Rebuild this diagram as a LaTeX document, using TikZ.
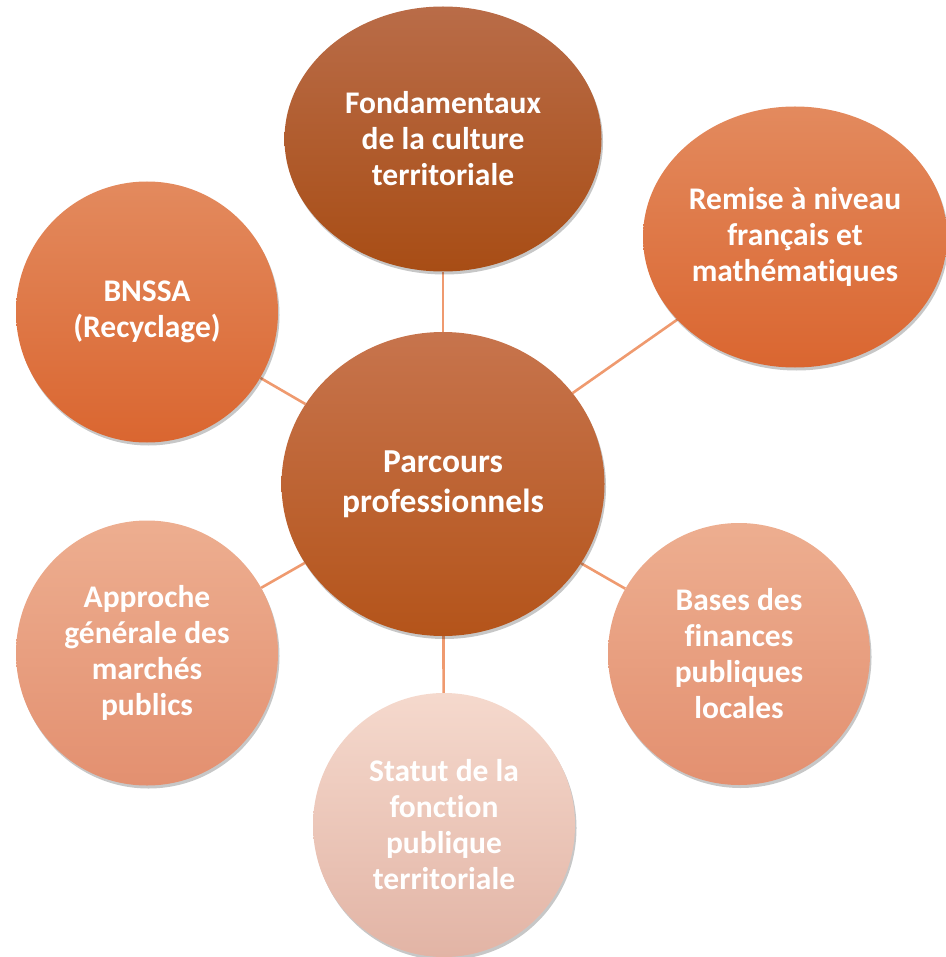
\documentclass[tikz,border=0pt]{standalone}
\usepackage{fontspec}
\setmainfont[Ligatures={NoCommon,NoRare,NoDiscretionary}]{Carlito}
\usetikzlibrary{shapes.geometric,shadows,backgrounds}
\definecolor{linkc}{HTML}{EF9A6F}
\definecolor{darkT}{HTML}{B96C48}\definecolor{darkB}{HTML}{A84D15}
\definecolor{cenT}{HTML}{C7744D}\definecolor{cenB}{HTML}{B4541A}
\definecolor{midT}{HTML}{E38A5E}\definecolor{midB}{HTML}{DA6630}
\definecolor{liteT}{HTML}{EDAE90}\definecolor{liteB}{HTML}{E39070}
\definecolor{paleT}{HTML}{F5D9CD}\definecolor{paleM}{HTML}{F7CCBE}\definecolor{paleB}{HTML}{E2B4A5}
\begin{document}
\begin{tikzpicture}[x=1pt,y=-1pt,
  bubble/.style={ellipse, inner sep=0pt, text=white, align=center,
    font=\fontsize{31.5}{36}\selectfont\bfseries,
    drop shadow={shadow xshift=1.5pt, shadow yshift=-3pt, opacity=0.22, fill=black}},
  link/.style={draw=linkc, line width=2.6pt}]
\useasboundingbox (0,0) rectangle (945,957);
\node[bubble, minimum width=317pt, minimum height=265pt, top color=darkT, bottom color=darkB] (t) at (443,139) {Fondamentaux\\de la culture\\territoriale};
\node[bubble, minimum width=304pt, minimum height=261pt, top color=midT, bottom color=midB] (r) at (795,237) {Remise à niveau\\français et\\mathématiques};
\node[bubble, minimum width=262pt, minimum height=261pt, top color=midT, bottom color=midB] (l) at (147,312) {BNSSA\\(Recyclage)};
\node[bubble, minimum width=323pt, minimum height=304pt, top color=cenT, bottom color=cenB, font=\fontsize{33.5}{40}\selectfont\bfseries] (c) at (443,484) {Parcours\\professionnels};
\node[bubble, minimum width=262pt, minimum height=265pt, top color=liteT, bottom color=liteB] (a) at (147,653) {Approche\\générale des\\marchés\\publics};
\node[bubble, minimum width=262pt, minimum height=262pt, top color=liteT, bottom color=liteB] (b) at (739,654) {Bases des\\finances\\publiques\\locales};
\node[bubble, minimum width=262pt, minimum height=264pt, top color=paleT, middle color=paleM, bottom color=paleB] (s) at (444,825) {Statut de la\\fonction\\publique\\territoriale};
\begin{pgfonlayer}{background}
\draw[link] (c) -- (t);
\draw[link] (c) -- (r);
\draw[link] (c) -- (l);
\draw[link] (c) -- (a);
\draw[link] (c) -- (b);
\draw[link] (c) -- (s);
\end{pgfonlayer}
\end{tikzpicture}
\end{document}
